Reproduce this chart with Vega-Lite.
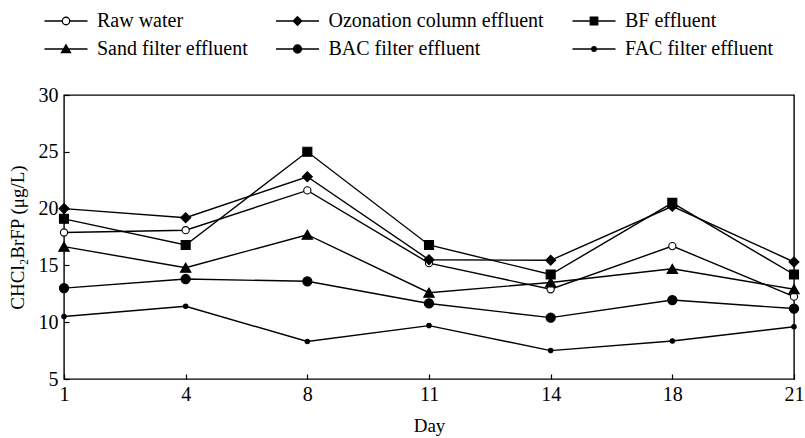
{
  "$schema": "https://vega.github.io/schema/vega-lite/v6.json",
  "width": 730,
  "height": 284,
  "autosize": {"type": "none"},
  "padding": {"left": 64, "top": 95, "right": 11, "bottom": 59},
  "background": "white",
  "config": {
    "view": {"stroke": "black", "strokeWidth": 1.4},
    "font": "Liberation Serif",
    "axis": {"domain": false, "grid": false, "labelFont": "Liberation Serif", "titleFont": "Liberation Serif", "labelFontSize": 20, "titleFontSize": 19, "labelColor": "black", "titleColor": "black", "titleFontWeight": "normal", "tickColor": "black", "tickWidth": 1.2},
    "legend": {"labelFont": "Liberation Serif", "labelFontSize": 20, "labelColor": "black"}
  },
  "data": {
    "values": [
      {"day": 1, "series": "Raw water", "value": 17.9},
      {"day": 4, "series": "Raw water", "value": 18.1},
      {"day": 8, "series": "Raw water", "value": 21.6},
      {"day": 11, "series": "Raw water", "value": 15.2},
      {"day": 14, "series": "Raw water", "value": 12.9},
      {"day": 18, "series": "Raw water", "value": 16.7},
      {"day": 21, "series": "Raw water", "value": 12.25},
      {"day": 1, "series": "Ozonation column effluent", "value": 20.0},
      {"day": 4, "series": "Ozonation column effluent", "value": 19.2},
      {"day": 8, "series": "Ozonation column effluent", "value": 22.8},
      {"day": 11, "series": "Ozonation column effluent", "value": 15.5},
      {"day": 14, "series": "Ozonation column effluent", "value": 15.45},
      {"day": 18, "series": "Ozonation column effluent", "value": 20.2},
      {"day": 21, "series": "Ozonation column effluent", "value": 15.3},
      {"day": 1, "series": "BF effluent", "value": 19.1},
      {"day": 4, "series": "BF effluent", "value": 16.8},
      {"day": 8, "series": "BF effluent", "value": 25.0},
      {"day": 11, "series": "BF effluent", "value": 16.8},
      {"day": 14, "series": "BF effluent", "value": 14.2},
      {"day": 18, "series": "BF effluent", "value": 20.5},
      {"day": 21, "series": "BF effluent", "value": 14.2},
      {"day": 1, "series": "Sand filter effluent", "value": 16.65},
      {"day": 4, "series": "Sand filter effluent", "value": 14.8},
      {"day": 8, "series": "Sand filter effluent", "value": 17.7},
      {"day": 11, "series": "Sand filter effluent", "value": 12.6},
      {"day": 14, "series": "Sand filter effluent", "value": 13.5},
      {"day": 18, "series": "Sand filter effluent", "value": 14.7},
      {"day": 21, "series": "Sand filter effluent", "value": 12.9},
      {"day": 1, "series": "BAC filter effluent", "value": 13.0},
      {"day": 4, "series": "BAC filter effluent", "value": 13.8},
      {"day": 8, "series": "BAC filter effluent", "value": 13.6},
      {"day": 11, "series": "BAC filter effluent", "value": 11.65},
      {"day": 14, "series": "BAC filter effluent", "value": 10.4},
      {"day": 18, "series": "BAC filter effluent", "value": 11.95},
      {"day": 21, "series": "BAC filter effluent", "value": 11.2},
      {"day": 1, "series": "FAC filter effluent", "value": 10.5},
      {"day": 4, "series": "FAC filter effluent", "value": 11.4},
      {"day": 8, "series": "FAC filter effluent", "value": 8.3},
      {"day": 11, "series": "FAC filter effluent", "value": 9.7},
      {"day": 14, "series": "FAC filter effluent", "value": 7.5},
      {"day": 18, "series": "FAC filter effluent", "value": 8.35},
      {"day": 21, "series": "FAC filter effluent", "value": 9.6}
    ]
  },
  "encoding": {
    "x": {
      "field": "day", "type": "ordinal", "title": "Day",
      "scale": {"type": "point", "padding": 0},
      "axis": {"labelAngle": 0, "tickSize": -5, "labelPadding": 10, "titleY": 46, "titleBaseline": "middle"}
    },
    "y": {
      "field": "value", "type": "quantitative", "title": "CHCl₂BrFP (μg/L)",
      "scale": {"domain": [5, 30], "nice": false, "zero": false},
      "axis": {"values": [5, 10, 15, 20, 25, 30], "tickSize": -5, "labelPadding": 11, "titleX": -47, "titleY": 142, "titleBaseline": "middle"}
    }
  },
  "layer": [
    {
      "mark": {"type": "line", "color": "black", "strokeWidth": 1.4},
      "encoding": {"detail": {"field": "series"}}
    },
    {
      "mark": {"type": "point", "filled": true, "stroke": "black", "strokeWidth": 1.3, "opacity": 0, "size": 100},
      "encoding": {
        "shape": {
          "field": "series",
          "scale": {
            "domain": ["Raw water", "Ozonation column effluent", "BF effluent", "Sand filter effluent", "BAC filter effluent", "FAC filter effluent"],
            "range": [
              "M-4.3,0H-0.75M0.75,0H4.3M-0.75,0A0.75,0.75,0,1,1,0.75,0A0.75,0.75,0,1,1,-0.75,0Z",
              "M-4.3,0H4.3M-0.85,0L0,-0.85L0.85,0L0,0.85Z",
              "M-4.3,0H4.3M-0.75,-0.75H0.75V0.75H-0.75Z",
              "M-4.3,0H4.3M0,-0.85L0.9,0.7L-0.9,0.7Z",
              "M-4.3,0H4.3M-0.8,0A0.8,0.8,0,1,1,0.8,0A0.8,0.8,0,1,1,-0.8,0Z",
              "M-4.3,0H4.3M-0.45,0A0.45,0.45,0,1,1,0.45,0A0.45,0.45,0,1,1,-0.45,0Z"
            ]
          },
          "legend": {
            "title": null, "orient": "none", "direction": "horizontal", "legendX": -24, "legendY": -84, "columns": 3,
            "columnPadding": 23.5, "rowPadding": 8, "symbolSize": 100, "symbolStrokeWidth": 1.3, "symbolOpacity": 1,
            "labelFont": "Liberation Serif", "labelFontSize": 20, "labelColor": "black", "labelLimit": 400,
            "symbolOffset": 16, "labelOffset": 21
          }
        },
        "fill": {
          "field": "series",
          "scale": {
            "domain": ["Raw water", "Ozonation column effluent", "BF effluent", "Sand filter effluent", "BAC filter effluent", "FAC filter effluent"],
            "range": ["white", "black", "black", "black", "black", "black"]
          }
        }
      }
    },
    {
      "mark": {"type": "point", "filled": true, "stroke": "black", "strokeWidth": 1.1, "opacity": 1},
      "encoding": {
        "shape": {
          "condition": [
            {"test": "datum.series === 'Ozonation column effluent'", "value": "diamond"},
            {"test": "datum.series === 'BF effluent'", "value": "square"},
            {"test": "datum.series === 'Sand filter effluent'", "value": "triangle-up"}
          ],
          "value": "circle"
        },
        "size": {
          "condition": [
            {"test": "datum.series === 'Raw water'", "value": 52},
            {"test": "datum.series === 'Ozonation column effluent'", "value": 100},
            {"test": "datum.series === 'BF effluent'", "value": 81},
            {"test": "datum.series === 'Sand filter effluent'", "value": 110},
            {"test": "datum.series === 'BAC filter effluent'", "value": 85}
          ],
          "value": 20
        },
        "fill": {
          "condition": {"test": "datum.series === 'Raw water'", "value": "white"},
          "value": "black"
        }
      }
    }
  ]
}
